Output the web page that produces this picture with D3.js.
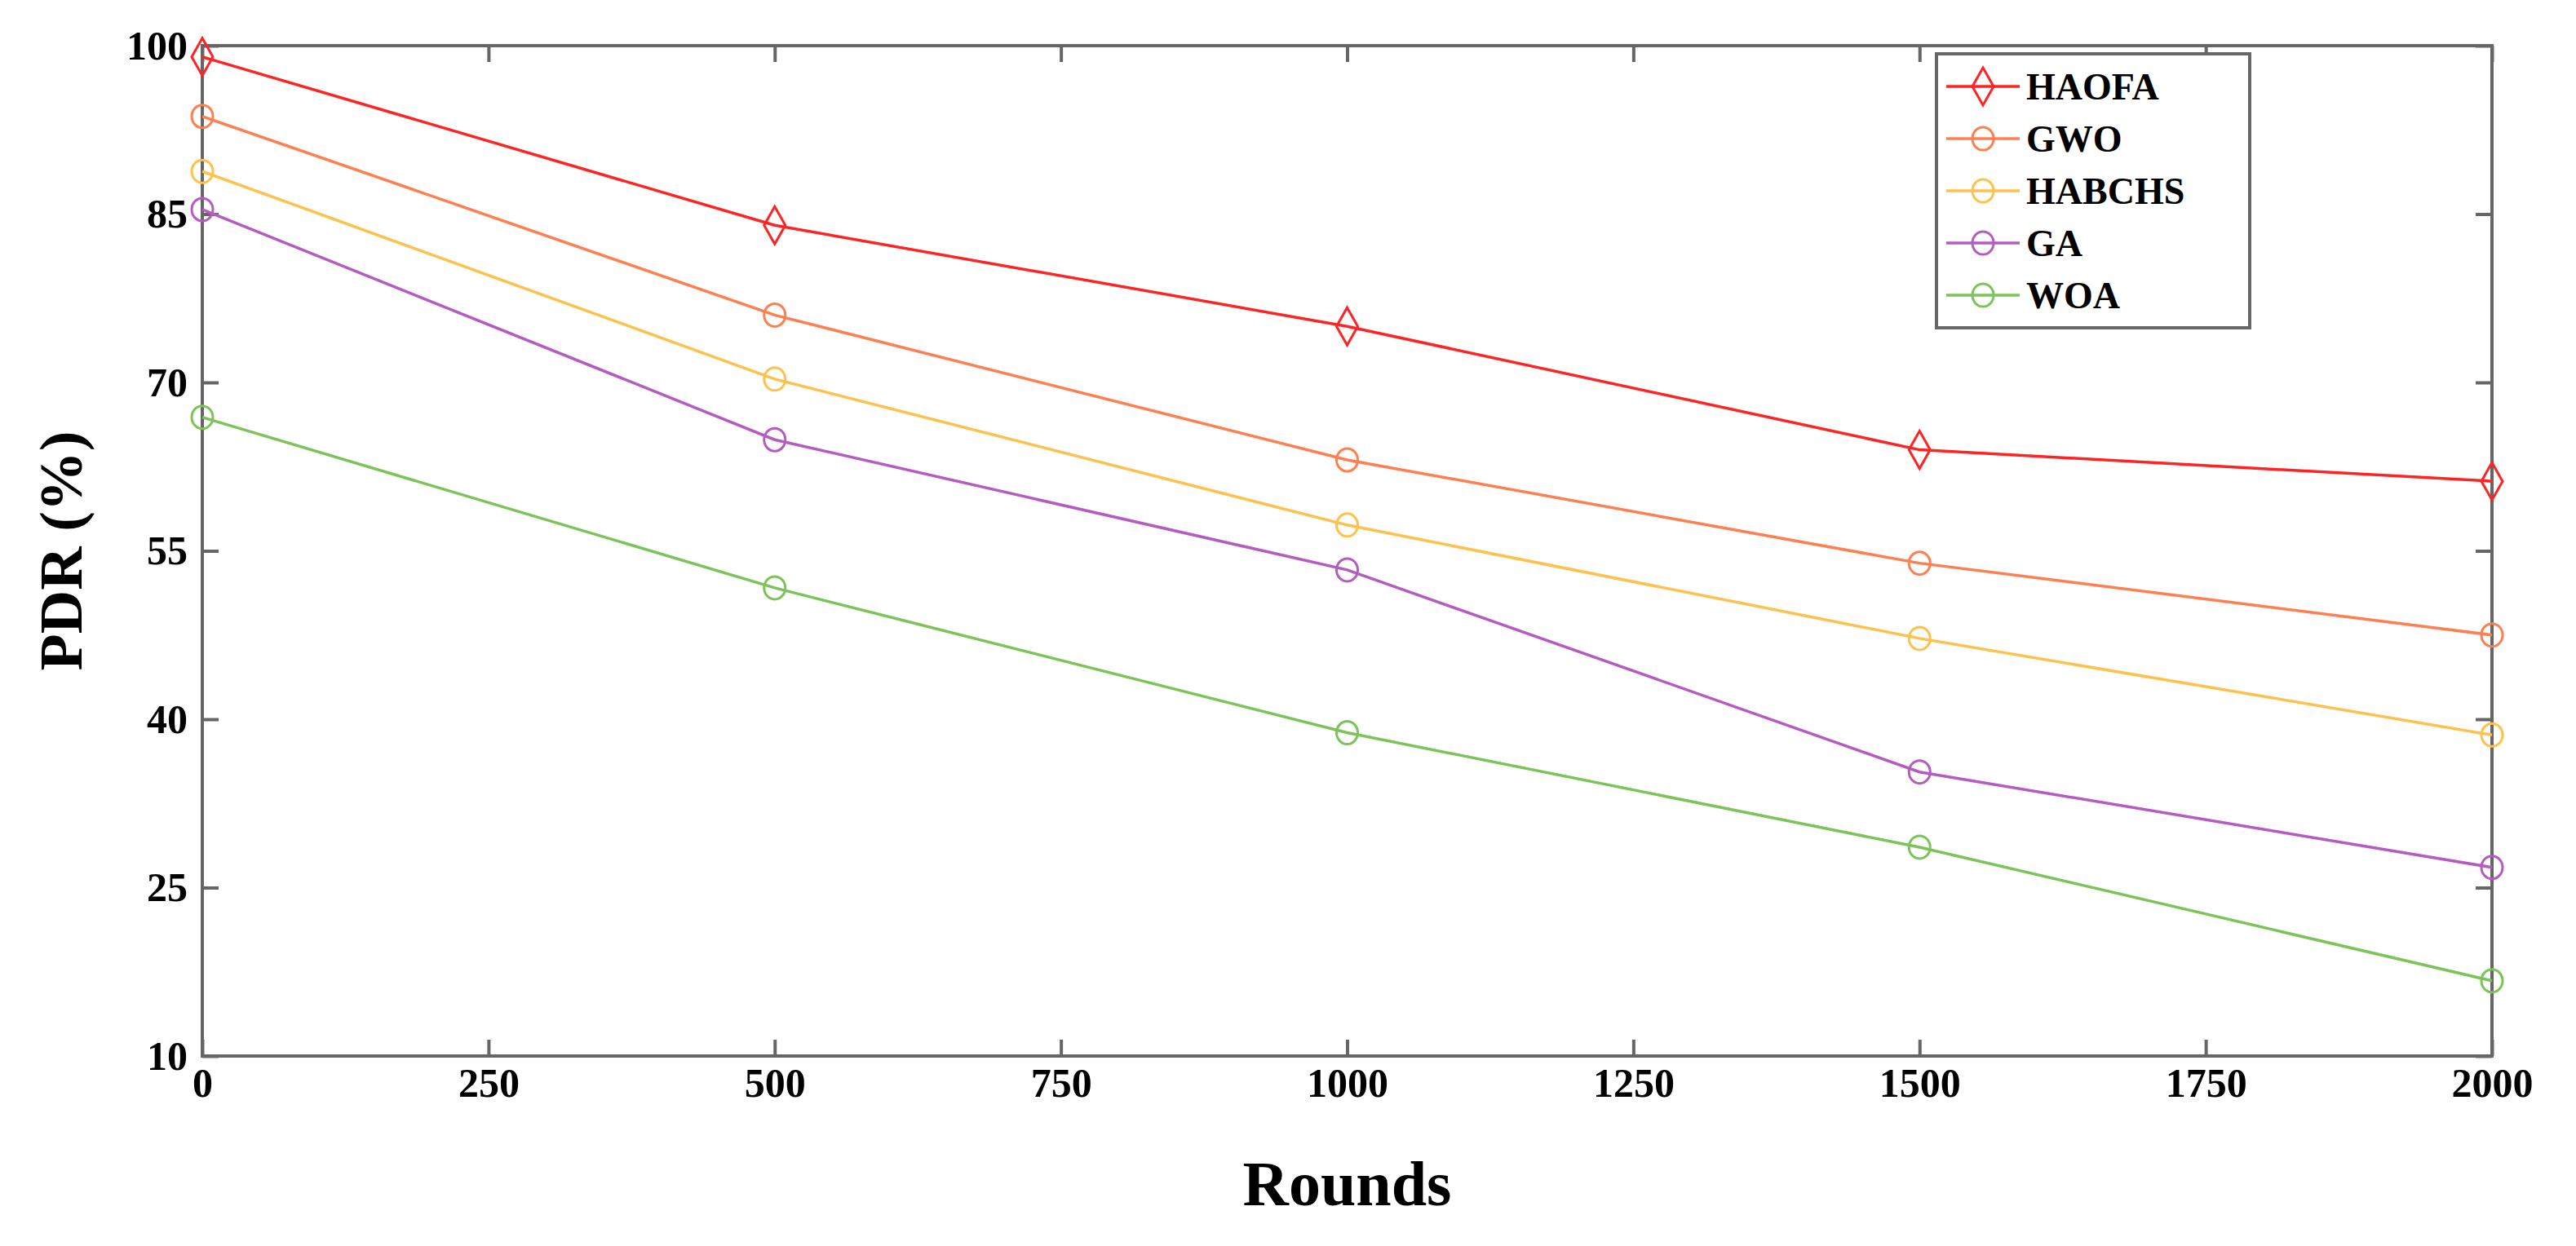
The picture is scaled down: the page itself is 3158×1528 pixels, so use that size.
<!DOCTYPE html>
<html><head><meta charset="utf-8">
<script src="https://cdn.jsdelivr.net/npm/d3@7"></script>
<style>body{margin:0;background:#fff}svg{display:block}</style>
</head><body><div id="chart"></div>
<script>
// data
const rounds = [0, 500, 1000, 1500, 2000];
const seriesNames = ["HAOFA", "GWO", "HABCHS", "GA", "WOA"];
const haofa = [99.0, 84.0, 75.0, 64.0, 61.2];
const gwo = [93.7, 76.0, 63.1, 53.9, 47.5];
const habchs = [88.8, 70.3, 57.3, 47.2, 38.6];
const ga = [85.4, 64.9, 53.3, 35.3, 26.8];
const woa = [66.9, 51.7, 38.8, 28.6, 16.7];
const yTicks = [10, 25, 40, 55, 70, 85, 100];
const xTicks = [0, 250, 500, 750, 1000, 1250, 1500, 1750, 2000];

const colors = ["#ff2424", "#ff7f50", "#ffc14d", "#b45cc0", "#7cc35a"];
const values = [haofa, gwo, habchs, ga, woa];

const W = 3158, H = 1528;
const m = { left: 248, right: 3158 - 3055, top: 56, bottom: 1528 - 1295 };
const svg = d3.select("#chart").append("svg").attr("width", W).attr("height", H);

const x = d3.scaleLinear().domain([0, 2000]).range([m.left, W - m.right]);
const y = d3.scaleLinear().domain([10, 100]).range([H - m.bottom, m.top]);
const font = "'Liberation Serif','Times New Roman',serif";

// box + inward ticks on all sides
const axisColor = "#666";
function styleAxis(g) {
  g.select(".domain").remove();
  g.selectAll("line").attr("stroke", axisColor).attr("stroke-width", 4);
  g.selectAll("text").attr("font-family", font).attr("font-weight", "bold")
    .attr("font-size", 50).attr("fill", "#000");
}
svg.append("g").attr("transform", `translate(0,${y(10)})`)
  .call(d3.axisBottom(x).tickValues(xTicks).tickSize(-20).tickPadding(14).tickFormat(d3.format("d")))
  .call(styleAxis);
svg.append("g").attr("transform", `translate(0,${y(100)})`)
  .call(d3.axisTop(x).tickValues(xTicks).tickSize(-20).tickFormat(""))
  .call(styleAxis);
svg.append("g").attr("transform", `translate(${x(0)},0)`)
  .call(d3.axisLeft(y).tickValues(yTicks).tickSize(-20).tickPadding(18))
  .call(styleAxis);
svg.append("g").attr("transform", `translate(${x(2000)},0)`)
  .call(d3.axisRight(y).tickValues(yTicks).tickSize(-20).tickFormat(""))
  .call(styleAxis);
svg.append("rect").attr("x", x(0)).attr("y", y(100))
  .attr("width", x(2000) - x(0)).attr("height", y(10) - y(100))
  .attr("fill", "none").attr("stroke", axisColor).attr("stroke-width", 4);

// axis titles
svg.append("text").attr("x", (x(0) + x(2000)) / 2).attr("y", 1478)
  .attr("text-anchor", "middle").attr("font-family", font).attr("font-weight", "bold")
  .attr("font-size", 78).text("Rounds");
svg.append("text").attr("transform", `translate(100,${(y(10) + y(100)) / 2}) rotate(-90)`)
  .attr("text-anchor", "middle").attr("font-family", font).attr("font-weight", "bold")
  .attr("font-size", 74).text("PDR (%)");

function marker(g, i, cx, cy) {
  if (i === 0) {
    g.append("path").attr("d", `M${cx},${cy - 23}L${cx + 13},${cy}L${cx},${cy + 23}L${cx - 13},${cy}Z`)
      .attr("fill", "none").attr("stroke", colors[i]).attr("stroke-width", 3);
  } else {
    g.append("ellipse").attr("cx", cx).attr("cy", cy).attr("rx", 13).attr("ry", 14)
      .attr("fill", "none").attr("stroke", colors[i]).attr("stroke-width", 3);
  }
}

const line = d3.line().x((d, j) => x(rounds[j])).y(d => y(d));
values.forEach((vals, i) => {
  const g = svg.append("g");
  g.append("path").datum(vals).attr("d", line).attr("fill", "none")
    .attr("stroke", colors[i]).attr("stroke-width", 3.5);
  vals.forEach((v, j) => marker(g, i, x(rounds[j]), y(v)));
});

// legend
const lg = svg.append("g");
lg.append("rect").attr("x", 2374).attr("y", 66).attr("width", 384).attr("height", 336)
  .attr("fill", "#fff").attr("stroke", axisColor).attr("stroke-width", 4);
seriesNames.forEach((name, i) => {
  const cy = 106 + i * 64;
  lg.append("line").attr("x1", 2386).attr("x2", 2476).attr("y1", cy).attr("y2", cy)
    .attr("stroke", colors[i]).attr("stroke-width", 3.5);
  marker(lg, i, 2431, cy);
  lg.append("text").attr("x", 2484).attr("y", cy + 16).attr("font-family", font)
    .attr("font-weight", "bold").attr("font-size", 46).text(name);
});
</script></body></html>
